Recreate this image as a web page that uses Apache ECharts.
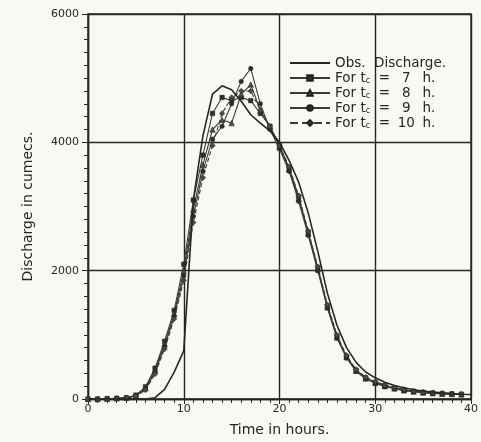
<!DOCTYPE html>
<html><head><meta charset="utf-8">
<script src="https://cdn.jsdelivr.net/npm/echarts@6/dist/echarts.min.js"></script>
<style>html,body{margin:0;padding:0;background:#faf8f3;}#c{width:481px;height:442px;}</style>
</head><body><div id="c"></div>
<script>
// Time (hours)
var hours = [0,1,2,3,4,5,6,7,8,9,10,11,12,13,14,15,16,17,18,19,20,21,22,23,24,25,26,27,28,29,30,31,32,33,34,35,36,37,38,39];
var obsHours = hours.concat([40]);
// Observed discharge (cumecs)
var observed = [0,0,0,0,0,0,0,20,150,420,750,3100,4100,4750,4880,4820,4640,4430,4300,4180,4000,3720,3380,2900,2300,1650,1150,800,570,420,330,260,210,175,145,125,110,95,85,75,70];
// Computed discharge for different tc
var pred7  = [0,0,5,10,20,60,190,480,900,1380,2100,3100,3800,4450,4700,4650,4700,4650,4450,4250,3950,3600,3150,2600,2050,1450,980,660,450,330,260,210,170,140,120,105,95,85,80,75];
var pred8  = [0,0,5,10,20,55,170,450,860,1330,2000,2950,3650,4200,4350,4300,4750,4900,4500,4250,3930,3580,3120,2580,2020,1430,960,650,440,320,250,200,165,135,115,100,90,82,76,72];
var pred9  = [0,0,5,10,15,50,150,420,820,1290,1920,2850,3550,4050,4250,4600,4950,5150,4600,4200,3900,3550,3080,2550,2000,1420,950,640,430,315,245,195,160,130,112,98,88,80,74,70];
var pred10 = [0,0,5,8,15,45,140,390,780,1250,1850,2750,3450,3950,4450,4700,4800,4800,4500,4250,3950,3620,3170,2620,2060,1470,1000,680,460,340,270,220,180,150,125,108,96,88,80,75];
var tcValues = [7,8,9,10];
var xTicks = [0,10,20,30,40];
var yTicks = [0,2000,4000,6000];

function pairs(xs, ys){ return ys.map(function(v,i){ return [xs[i], v]; }); }
var ink = '#262626';
var predSets = [pred7, pred8, pred9, pred10];
var symbols = ['rect','triangle','circle','diamond'];
var symSizes = [4.5,5.5,4.5,5.5];
var series = [{
  name: 'Obs. Discharge.', type: 'line', data: pairs(obsHours, observed),
  showSymbol: false, symbol: 'none', lineStyle: {color: ink, width: 1.6}, itemStyle: {color: ink}, z: 5
}];
predSets.forEach(function(p, k){
  series.push({
    name: 'For tc = ' + tcValues[k] + ' h.', type: 'line', data: pairs(hours, p),
    symbol: symbols[k], symbolSize: symSizes[k], showAllSymbol: true,
    lineStyle: {color: '#3a3a3a', width: 1.1, type: k === 3 ? 'dashed' : 'solid'},
    itemStyle: {color: k % 2 ? '#4a4a4a' : '#2e2e2e', borderColor: '#222', borderWidth: 0.5}
  });
});

var legendData = series.map(function(s, i){
  return i === 0 ? {name: s.name, itemStyle: {opacity: 0}} : {name: s.name};
});

var chart = echarts.init(document.getElementById('c'), null, {renderer: 'canvas'});
chart.setOption({
  backgroundColor: '#faf8f3',
  animation: false,
  textStyle: {fontFamily: 'DejaVu Sans', color: ink},
  grid: {left: 88, right: 6, top: 14, bottom: 42, show: true, borderColor: ink, borderWidth: 1.4, backgroundColor: 'transparent'},
  legend: {
    orient: 'vertical', left: 289, top: 56, itemWidth: 40, itemHeight: 7, itemGap: 1,
    padding: 0,
    data: legendData,
    textStyle: {fontSize: 13.5, lineHeight: 14, color: ink, fontFamily: 'DejaVu Sans',
      rich: {t: {fontSize: 13.5, lineHeight: 14, color: ink}, c: {fontSize: 8, lineHeight: 14, color: ink, verticalAlign: 'bottom', padding: [0,0,0,0]},
             n: {fontSize: 13.5, lineHeight: 14, width: 24, align: 'right', color: ink}}},
    formatter: function(name){
      if (name.indexOf('For') === 0) {
        var n = name.replace(/[^0-9]/g, '');
        return 'For {t|t}{c|c}  = {n|' + n + '} h.';
      }
      return 'Obs.  Discharge.';
    }
  },
  xAxis: {
    type: 'value', min: 0, max: 40, interval: 10,
    name: 'Time in hours.', nameLocation: 'middle', nameGap: 24,
    nameTextStyle: {fontSize: 14, color: ink, fontFamily: 'DejaVu Sans'},
    axisLine: {show: true, onZero: false, lineStyle: {color: ink, width: 1.4}},
    axisTick: {show: true, inside: false, length: 5, lineStyle: {color: ink}},
    minorTick: {show: true, splitNumber: 10, length: 4, lineStyle: {color: ink}},
    axisLabel: {fontSize: 11, color: ink, margin: 5, formatter: function(v){ return xTicks.indexOf(v) >= 0 ? String(v) : ''; }},
    splitLine: {show: true, lineStyle: {color: ink, width: 1.4}}
  },
  yAxis: {
    type: 'value', min: 0, max: 6000, interval: 2000,
    name: 'Discharge in cumecs.', nameLocation: 'middle', nameGap: 53,
    nameTextStyle: {fontSize: 14, color: ink, fontFamily: 'DejaVu Sans'},
    axisLine: {show: true, onZero: false, lineStyle: {color: ink, width: 1.4}},
    axisTick: {show: true, length: 6, lineStyle: {color: ink}},
    minorTick: {show: true, splitNumber: 10, length: 4, lineStyle: {color: ink}},
    axisLabel: {fontSize: 11, color: ink, margin: 9, formatter: function(v){ return yTicks.indexOf(v) >= 0 ? String(v) : ''; }},
    splitLine: {show: true, lineStyle: {color: ink, width: 1.4}}
  },
  series: series
});
</script></body></html>
